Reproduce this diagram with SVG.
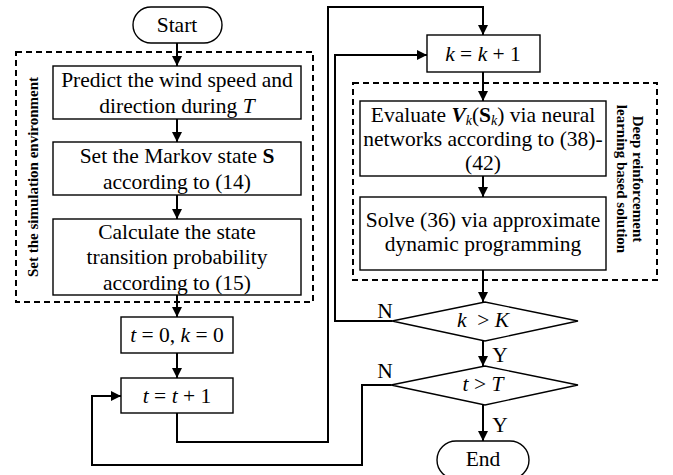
<svg xmlns="http://www.w3.org/2000/svg" width="673" height="475" viewBox="0 0 673 475">
<defs>
<marker id="ah" markerWidth="10" markerHeight="10" refX="10" refY="5" orient="auto" markerUnits="userSpaceOnUse">
<path d="M0,0 L10,5 L0,10 Z" fill="#000"/>
</marker>
<style>
.box{fill:#fff;stroke:#000;stroke-width:1.4}
.dash{fill:none;stroke:#000;stroke-width:2;stroke-dasharray:6,4}
.t{font-family:"Liberation Serif","Times New Roman",serif;font-size:21.5px;fill:#000;text-anchor:middle}
.lb{font-family:"Liberation Serif","Times New Roman",serif;font-size:15px;font-weight:bold;fill:#000;text-anchor:middle}
.c{fill:none;stroke:#000;stroke-width:2}
.a{fill:none;stroke:#000;stroke-width:2;marker-end:url(#ah)}
.i{font-style:italic}
.sub{font-size:14px;font-style:italic}
</style>
</defs>
<rect width="673" height="475" fill="#fff"/>
<g id="groups">
<rect class="dash" x="16" y="52" width="297" height="250"/>
<text class="lb" transform="translate(38,177) rotate(-90)">Set the simulation environment</text>
<rect class="dash" x="353" y="83" width="304" height="197"/>
<text class="lb" transform="translate(633,179) rotate(90)">Deep reinforcement</text>
<text class="lb" transform="translate(617,179) rotate(90)">learning based solution</text>
</g>
<g id="connectors">
<path class="a" d="M177,43 V66"/>
<path class="a" d="M177,119 V142"/>
<path class="a" d="M177,195 V219"/>
<path class="a" d="M177,295 V317"/>
<path class="a" d="M177,353 V378"/>
<path class="a" d="M177,413 V442 H328 V7 H483 V35"/>
<path class="a" d="M483,72 V101"/>
<path class="a" d="M483,176 V197"/>
<path class="a" d="M483,270 V302"/>
<path class="a" d="M483,341 V366"/>
<path class="a" d="M483,405 V441"/>
<path class="a" d="M392,321 H335 V55 H427"/>
<path class="a" d="M391,385 H362 V465 H92 V396 H121"/>
<text class="t" x="385" y="318">N</text>
<text class="t" x="385" y="378">N</text>
<text class="t" x="500" y="362">Y</text>
<text class="t" x="500" y="432">Y</text>
</g>
<g id="start">
<rect class="box" x="133" y="7" width="89" height="36" rx="18"/>
<text class="t" x="177" y="32">Start</text>
</g>
<g id="predict">
<rect class="box" x="53" y="66" width="248" height="53"/>
<text class="t" x="177" y="87">Predict the wind speed and</text>
<text class="t" x="177" y="113">direction during <tspan class="i">T</tspan></text>
</g>
<g id="markov">
<rect class="box" x="53" y="142" width="248" height="53"/>
<text class="t" x="177" y="163">Set the Markov state <tspan font-weight="bold">S</tspan></text>
<text class="t" x="177" y="189">according to (14)</text>
</g>
<g id="transition">
<rect class="box" x="53" y="219" width="248" height="76"/>
<text class="t" x="177" y="239">Calculate the state</text>
<text class="t" x="177" y="264">transition probability</text>
<text class="t" x="177" y="290">according to (15)</text>
</g>
<g id="init">
<rect class="box" x="121" y="317" width="112" height="36"/>
<text class="t" x="177" y="342"><tspan class="i">t</tspan> = 0, <tspan class="i">k</tspan> = 0</text>
</g>
<g id="tinc">
<rect class="box" x="121" y="378" width="112" height="35"/>
<text class="t" x="177" y="403"><tspan class="i">t</tspan> = <tspan class="i">t</tspan> + 1</text>
</g>
<g id="kinc">
<rect class="box" x="427" y="35" width="113" height="37"/>
<text class="t" x="483" y="61"><tspan class="i">k</tspan> = <tspan class="i">k</tspan> + 1</text>
</g>
<g id="evaluate">
<rect class="box" x="360" y="101" width="246" height="75"/>
<text class="t" x="483" y="122">Evaluate <tspan font-weight="bold" font-style="italic">V</tspan><tspan class="sub" dy="3">k</tspan><tspan dy="-3">(</tspan><tspan font-weight="bold">S</tspan><tspan class="sub" dy="3">k</tspan><tspan dy="-3">) via neural</tspan></text>
<text class="t" x="483" y="146">networks according to (38)-</text>
<text class="t" x="483" y="170">(42)</text>
</g>
<g id="solve">
<rect class="box" x="360" y="197" width="246" height="73"/>
<text class="t" x="483" y="227">Solve (36) via approximate</text>
<text class="t" x="483" y="251">dynamic programming</text>
</g>
<g id="dk">
<polygon class="box" points="392,321 485,302 578,321 485,341"/>
<text class="t" x="483" y="327"><tspan class="i">k</tspan>&#160; &gt; <tspan class="i">K</tspan></text>
</g>
<g id="dt">
<polygon class="box" points="391,385 485,366 578,385 485,405"/>
<text class="t" x="483" y="391"><tspan class="i">t</tspan> &gt; <tspan class="i">T</tspan></text>
</g>
<g id="end">
<rect class="box" x="437" y="441" width="92" height="38" rx="19"/>
<text class="t" x="483" y="466">End</text>
</g>
</svg>
